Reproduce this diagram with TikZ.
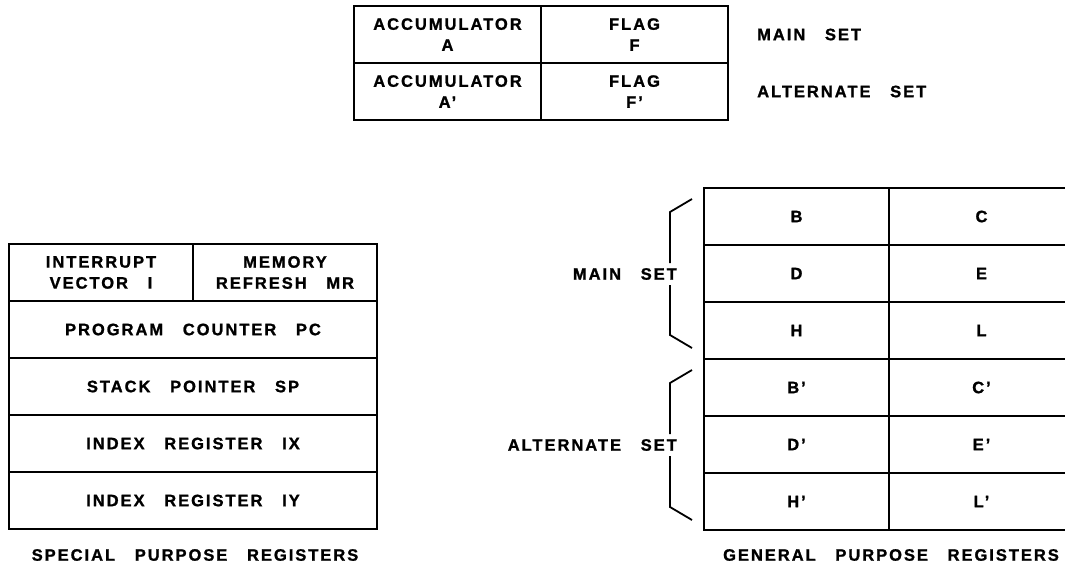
\documentclass[tikz,border=0pt]{standalone}
\usepackage{fontspec}
\newfontfamily\regfont[LetterSpace=12,WordSpace=3,BoldFeatures={FakeBold=1.2}]{Liberation Sans}
\tikzset{
  regtext/.style={font={\regfont\bfseries\fontsize{16.5}{21}\selectfont}, align=center, inner sep=0pt},
  cell/.style={regtext, draw, line width=2.2pt},
  bracket/.style={line width=1.8pt}
}

\begin{document}
\begin{tikzpicture}[x=1pt,y=-1pt]
  \useasboundingbox (0,0) rectangle (1065,571);
  \clip (0,0) rectangle (1065,571);
  \begin{scope}[every node/.append style={cell, minimum width=187pt, minimum height=57pt}]
    \node (acc) at (447.5,34.5) {ACCUMULATOR\\A};
    \node (flag) at (634.5,34.5) {FLAG\\F};
    \node (accalt) at (447.5,91.5) {ACCUMULATOR\\A’};
    \node (flagalt) at (634.5,91.5) {FLAG\\F’};
  \end{scope}
  \node[regtext, anchor=west] (accmain) at (757,34.5) {MAIN SET};
  \node[regtext, anchor=west] (accaltset) at (757,91.5) {ALTERNATE SET};

  \begin{scope}[every node/.append style={cell, minimum height=57pt}]
    \node[minimum width=184pt] (iv) at (101,272.5) {INTERRUPT\\VECTOR I};
    \node[minimum width=184pt] (mr) at (285,272.5) {MEMORY\\REFRESH MR};
    \node[minimum width=368pt] (pc) at (193,329.5) {PROGRAM COUNTER PC};
    \node[minimum width=368pt] (sp) at (193,386.5) {STACK POINTER SP};
    \node[minimum width=368pt] (ix) at (193,443.5) {INDEX REGISTER IX};
    \node[minimum width=368pt] (iy) at (193,500.5) {INDEX REGISTER IY};
  \end{scope}
  \node[regtext] (spcap) at (195,555) {SPECIAL PURPOSE REGISTERS};

  \foreach \lo/\hi [count=\i] in {B/C, D/E, H/L, B’/C’, D’/E’, H’/L’} {
    \node[cell, minimum width=185pt, minimum height=57pt] (gpl\i) at (796.5,{159.5+57*\i}) {\lo};
    \node[cell, minimum width=185pt, minimum height=57pt] (gpr\i) at (981.5,{159.5+57*\i}) {\hi};
  }
  \node[regtext] (gpcap) at (891,555) {GENERAL PURPOSE REGISTERS};

  \draw[bracket] (692,199) -- (670,212) -- (670,263);
  \draw[bracket] (670,285) -- (670,335) -- (692,348);
  \node[regtext, anchor=east] (gpmain) at (677,274) {MAIN SET};
  \draw[bracket] (692,370) -- (670,383) -- (670,434);
  \draw[bracket] (670,456) -- (670,507) -- (692,520);
  \node[regtext, anchor=east] (gpalt) at (677,445) {ALTERNATE SET};
\end{tikzpicture}
\end{document}
